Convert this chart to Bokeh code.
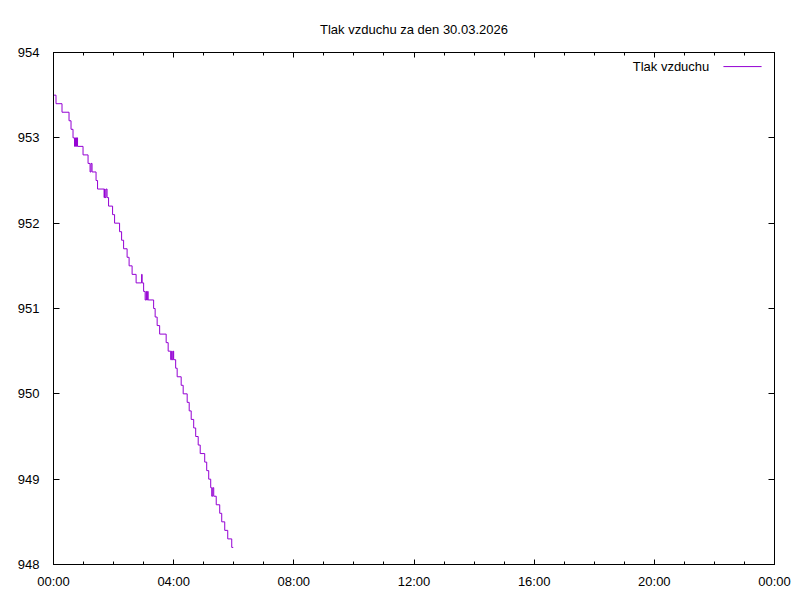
import pandas as pd
from bokeh.plotting import figure
from bokeh.models import (DatetimeAxis, LinearAxis, FixedTicker, DatetimeTickFormatter,
                          Range1d, Label, Arrow, CustomJSTickFormatter)
from bokeh.embed import file_html
from bokeh.resources import INLINE

# ---- data (minutes after midnight of 30.03.2026, pressure in hPa) ----
day = "2026-03-30"
minutes = [0, 5, 17, 31, 35, 39, 42, 44, 46, 47, 48, 59, 69, 73, 75, 77, 85, 88,
           101, 102, 103, 105, 107, 110, 118, 122, 132, 136, 140, 147, 151, 157,
           165, 176, 177, 180, 183, 185, 186, 188, 189, 200, 203, 207, 212, 225,
           229, 234, 236, 237, 239, 240, 244, 247, 255, 259, 267, 271, 275, 280,
           284, 289, 293, 302, 306, 310, 314, 316, 318, 320, 325, 332, 336, 342,
           348, 356, 359]
pressure = [953.5, 953.4, 953.3, 953.2, 953.1, 953.0, 952.9, 953.0, 952.9, 953.0, 952.9,
            952.8, 952.7, 952.6, 952.7, 952.6, 952.5, 952.4,
            952.3, 952.4, 952.3, 952.4, 952.3, 952.2, 952.1, 952.0, 951.9, 951.8, 951.7,
            951.6, 951.5, 951.4,
            951.3, 951.4, 951.3, 951.2, 951.1, 951.2, 951.1, 951.2, 951.1, 951.0, 950.9,
            950.8, 950.7, 950.6,
            950.5, 950.4, 950.5, 950.4, 950.5, 950.4, 950.3, 950.2, 950.1, 950.0, 949.9,
            949.8, 949.7, 949.6,
            949.5, 949.4, 949.3, 949.2, 949.1, 949.0, 948.9, 948.8, 948.9, 948.8, 948.7,
            948.6, 948.5, 948.4,
            948.3, 948.2, 948.2]
tick_hours = [0, 4, 8, 12, 16, 20, 24]
minor_hours = list(range(0, 25))
y_ticks = [948, 949, 950, 951, 952, 953, 954]
title_text = "Tlak vzduchu za den 30.03.2026"
series_name = "Tlak vzduchu"

base = pd.Timestamp(day)
times = base + pd.to_timedelta(minutes, unit="m")
base_ms = base.timestamp() * 1000.0
H = 3600000.0

FONT = "Liberation Sans"
FS = "13px"
COLOR = "#9400d3"

p = figure(frame_width=721, frame_height=512, min_border_left=53, min_border_top=52,
           min_border_right=18, min_border_bottom=28,
           x_axis_type="datetime", output_backend="svg", toolbar_location=None,
           x_range=Range1d(base_ms, base_ms + 24 * H), y_range=Range1d(948, 954))

p.step(times, pressure, mode="after", line_color=COLOR, line_width=1)

p.title.text = title_text
p.title.align = "center"
p.title.text_font = FONT
p.title.text_font_size = FS
p.title.text_font_style = "normal"
p.title.text_color = "black"
p.title.standoff = 32

p.xgrid.visible = False
p.ygrid.visible = False
p.outline_line_color = "black"
p.outline_line_alpha = 1
p.background_fill_color = "white"
p.border_fill_color = "white"

xticker = FixedTicker(ticks=[base_ms + h * H for h in tick_hours],
                      minor_ticks=[base_ms + h * H for h in minor_hours])
fmt = DatetimeTickFormatter(hours="%H:%M", hourmin="%H:%M", days="%H:%M",
                            minutes="%H:%M", strip_leading_zeros=False)
yticker = FixedTicker(ticks=y_ticks, minor_ticks=[])
blank = CustomJSTickFormatter(code="return ''")


def style(ax):
    ax.axis_line_color = "black"
    ax.major_tick_line_color = "black"
    ax.minor_tick_line_color = "black"
    ax.major_tick_in = 5
    ax.major_tick_out = 0
    ax.minor_tick_in = 3
    ax.minor_tick_out = 0
    ax.major_label_text_font = FONT
    ax.major_label_text_font_size = FS
    ax.major_label_text_color = "black"


xa = p.xaxis[0]
xa.ticker = xticker
xa.formatter = fmt
style(xa)
xa.major_label_standoff = 9

ya = p.yaxis[0]
ya.ticker = yticker
style(ya)
ya.major_tick_in = 6
ya.major_label_standoff = 14

top = DatetimeAxis(ticker=xticker, formatter=blank)
style(top)
top.major_label_standoff = 0
p.add_layout(top, "above")

right = LinearAxis(ticker=yticker, formatter=blank)
style(right)
right.major_tick_in = 6
right.major_label_standoff = 0
p.add_layout(right, "right")

# key (gnuplot style: text left of sample line)
key_y = 953.835
p.add_layout(Label(x=base_ms + 21.83 * H, y=key_y, text=series_name,
                   text_align="right", text_baseline="middle",
                   text_font=FONT, text_font_size=FS, text_color="black"))
p.add_layout(Arrow(end=None, x_start=base_ms + 22.3 * H, y_start=key_y,
                   x_end=base_ms + 23.57 * H, y_end=key_y,
                   line_color=COLOR, line_width=1))

open("out.html", "w").write(file_html(p, INLINE))
